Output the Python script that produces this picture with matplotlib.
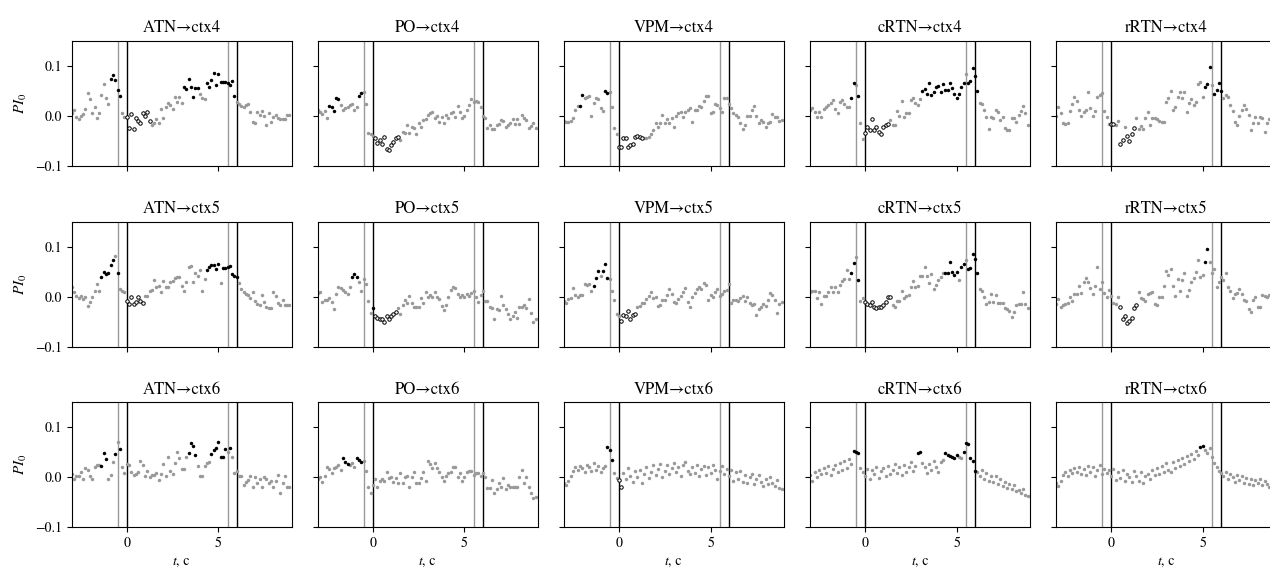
import numpy as np
import matplotlib
matplotlib.use("Agg")
import matplotlib.pyplot as plt

plt.rcParams['font.family'] = ['STIXGeneral', 'Liberation Serif', 'DejaVu Serif']
plt.rcParams['mathtext.fontset'] = 'stix'

# time grid, s
t = np.arange(-3, 9, 0.125)

sources = ['ATN', 'PO', 'VPM', 'cRTN', 'rRTN']
targets = ['ctx4', 'ctx5', 'ctx6']

# PI_0 values per panel (8 values per second, -3 .. 9 s)
atn_ctx4 = [0.006, 0.011, -0.003, -0.007, -0.001, 0.003, 0.013, 0.045,
            0.033, 0.005, 0.018, -0.005, 0.006, 0.041, 0.063, 0.035,
            0.023, 0.073, 0.081, 0.071, 0.051, 0.039, 0.005, -0.003,
            -0.002, -0.025, 0.003, -0.027, -0.005, -0.010, -0.015, 0.005,
            -0.001, 0.008, -0.010, -0.019, -0.014, -0.007, -0.015, 0.013,
            -0.005, 0.017, 0.025, 0.021, 0.013, 0.038, 0.028, 0.037,
            0.026, 0.058, 0.053, 0.073, 0.057, 0.038, 0.055, 0.056,
            0.043, 0.035, 0.033, 0.066, 0.057, 0.071, 0.086, 0.061,
            0.083, 0.068, 0.067, 0.068, 0.065, 0.061, 0.069, 0.040,
            0.028, 0.023, 0.019, 0.018, 0.021, 0.023, 0.008, -0.012,
            -0.015, 0.008, 0.001, 0.010, -0.001, -0.019, 0.006, -0.012,
            -0.003, 0.001, -0.005, -0.007, -0.007, -0.007, 0.001, 0.001]
po_ctx4 = [0.011, 0.008, 0.003, 0.009, -0.005, 0.019, 0.017, 0.010,
           0.035, 0.033, 0.021, 0.011, 0.015, 0.017, 0.021, 0.023,
           0.011, 0.018, 0.039, 0.045, 0.048, 0.023, -0.034, -0.037,
           -0.041, -0.045, -0.055, -0.049, -0.057, -0.042, -0.067, -0.069,
           -0.059, -0.052, -0.045, -0.042, -0.049, -0.032, -0.034, -0.019,
           -0.034, -0.022, -0.025, -0.037, -0.015, -0.023, -0.009, -0.007,
           0.001, 0.006, 0.008, -0.005, -0.001, -0.012, -0.003, -0.014,
           0.001, -0.005, 0.006, 0.008, -0.003, 0.019, 0.008, -0.005,
           -0.001, 0.011, 0.021, 0.033, 0.028, 0.030, 0.028, 0.018,
           -0.001, -0.005, -0.025, -0.019, -0.027, -0.027, -0.019, -0.017,
           -0.009, -0.010, -0.022, -0.019, -0.015, -0.007, -0.017, -0.007,
           -0.017, 0.001, -0.005, -0.009, -0.025, -0.020, -0.015, -0.025]
vpm_ctx4 = [-0.010, -0.012, -0.012, -0.010, -0.005, 0.011, 0.019, 0.019,
            0.041, 0.035, 0.038, 0.039, -0.001, 0.026, 0.035, 0.033,
            0.015, 0.010, 0.050, 0.046, 0.048, 0.017, -0.025, -0.037,
            -0.063, -0.063, -0.045, -0.045, -0.063, -0.059, -0.057, -0.043,
            -0.041, -0.042, -0.045, -0.045, -0.045, -0.043, -0.037, -0.029,
            -0.014, -0.022, -0.014, 0.001, -0.014, -0.007, -0.015, -0.005,
            -0.022, -0.001, 0.005, 0.008, -0.003, 0.008, 0.011, 0.015,
            -0.012, 0.011, 0.011, 0.019, 0.017, 0.030, 0.039, 0.039,
            0.005, 0.008, 0.023, 0.021, 0.016, 0.008, 0.035, 0.035,
            0.023, 0.015, 0.006, 0.001, -0.003, -0.014, -0.027, -0.019,
            -0.001, -0.001, 0.011, 0.019, -0.001, -0.015, -0.009, -0.012,
            -0.023, -0.015, -0.012, 0.003, -0.002, -0.003, -0.010, -0.009]
crtn_ctx4 = [0.012, 0.016, 0.008, -0.003, 0.008, -0.003, 0.013, 0.018,
             0.021, 0.025, 0.031, 0.014, 0.006, 0.028, 0.031, 0.023,
             0.017, 0.018, 0.035, 0.066, 0.061, 0.039, -0.015, -0.047,
             -0.035, -0.022, -0.029, -0.007, -0.029, -0.022, -0.032, -0.037,
             -0.022, -0.019, -0.017, -0.009, -0.019, -0.019, 0.010, -0.001,
             0.030, -0.003, 0.005, 0.006, 0.031, 0.035, 0.026, 0.021,
             0.033, 0.050, 0.053, 0.043, 0.066, 0.041, 0.048, 0.057,
             0.059, 0.047, 0.063, 0.051, 0.051, 0.066, 0.056, 0.043,
             0.035, 0.043, 0.057, 0.066, 0.083, 0.065, 0.069, 0.095,
             0.079, 0.049, 0.026, 0.023, 0.011, -0.003, -0.027, -0.003,
             -0.005, 0.011, 0.008, -0.009, -0.003, -0.025, -0.029, -0.029,
             -0.005, -0.005, -0.012, 0.001, 0.010, 0.019, 0.006, -0.019]
rrtn_ctx4 = [-0.001, 0.018, 0.006, -0.015, -0.017, -0.014, 0.010, 0.023,
             0.037, 0.029, 0.011, -0.001, 0.008, 0.011, 0.047, 0.015,
             -0.001, 0.010, 0.037, 0.041, 0.046, 0.010, -0.003, -0.017,
             -0.017, -0.017, -0.019, -0.010, -0.057, -0.049, -0.022, -0.041,
             -0.050, -0.037, -0.025, -0.005, -0.027, -0.021, -0.027, -0.005,
             0.008, -0.019, -0.005, -0.005, -0.007, -0.010, -0.012, -0.012,
             0.028, 0.035, 0.049, 0.011, 0.018, 0.038, 0.047, 0.035,
             0.048, 0.008, 0.026, 0.033, 0.021, 0.028, 0.063, 0.068,
             0.037, 0.058, 0.063, 0.097, 0.061, 0.043, 0.051, 0.065,
             0.050, 0.035, 0.041, 0.038, 0.021, 0.009, -0.012, -0.019,
             -0.001, 0.011, 0.021, 0.013, 0.001, -0.029, -0.015, -0.003,
             -0.015, -0.003, -0.005, -0.032, -0.015, -0.007, 0.002, 0.005]

atn_ctx5 = [0.019, 0.010, 0.001, -0.003, 0.001, -0.005, -0.001, -0.019,
            -0.010, -0.001, 0.012, 0.025, 0.012, 0.040, 0.050, 0.045,
            0.047, 0.063, 0.073, 0.081, 0.048, 0.015, 0.012, 0.010,
            -0.008, -0.015, -0.001, -0.015, -0.010, -0.001, -0.008, -0.012,
            0.001, 0.001, 0.012, 0.013, 0.033, 0.019, 0.021, 0.010,
            0.032, 0.019, 0.019, 0.030, 0.032, 0.037, 0.040, 0.040,
            0.021, 0.012, 0.030, 0.059, 0.061, 0.030, 0.047, 0.041,
            0.053, 0.012, 0.035, 0.053, 0.059, 0.063, 0.063, 0.055,
            0.065, 0.028, 0.057, 0.057, 0.059, 0.061, 0.045, 0.041,
            0.040, 0.027, 0.015, 0.010, 0.005, 0.003, -0.003, 0.010,
            -0.008, -0.015, -0.017, 0.003, -0.010, -0.020, -0.023, -0.023,
            0.010, 0.001, -0.012, -0.017, -0.007, -0.017, -0.017, -0.017]
po_ctx5 = [0.008, 0.010, -0.010, -0.007, -0.007, -0.003, -0.010, -0.025,
           0.005, 0.019, 0.017, 0.013, 0.010, 0.005, 0.019, 0.040,
           0.045, 0.040, 0.030, 0.012, 0.035, 0.025, -0.008, -0.033,
           -0.023, -0.039, -0.043, -0.045, -0.045, -0.050, -0.039, -0.045,
           -0.039, -0.035, -0.030, -0.023, -0.035, -0.017, -0.007, -0.012,
           0.001, -0.013, -0.021, -0.021, -0.021, -0.003, -0.012, 0.010,
           -0.001, 0.003, -0.001, 0.010, -0.001, -0.005, -0.019, -0.027,
           -0.017, -0.001, 0.013, 0.020, 0.017, 0.005, -0.001, 0.003,
           -0.001, 0.005, 0.001, 0.008, 0.012, -0.001, -0.010, 0.003,
           0.012, -0.008, -0.008, -0.020, -0.023, -0.045, -0.025, -0.027,
           0.001, -0.017, -0.025, -0.035, -0.045, -0.039, -0.030, -0.043,
           -0.020, -0.021, -0.017, -0.023, -0.005, -0.033, -0.050, -0.045]
vpm_ctx5 = [-0.008, -0.012, -0.005, -0.003, 0.017, 0.003, -0.001, 0.003,
            0.003, 0.025, 0.023, 0.025, 0.012, 0.021, 0.037, 0.052,
            0.041, 0.052, 0.065, 0.037, 0.035, 0.012, -0.007, -0.035,
            -0.039, -0.048, -0.037, -0.039, -0.028, -0.045, -0.037, -0.035,
            -0.021, -0.019, -0.013, -0.012, -0.005, 0.001, 0.010, -0.003,
            -0.001, -0.019, -0.017, -0.007, -0.007, 0.003, 0.015, 0.005,
            -0.010, -0.012, -0.005, 0.001, 0.010, 0.017, -0.010, -0.020,
            -0.001, 0.008, 0.015, 0.020, 0.015, 0.028, 0.023, -0.007,
            0.003, -0.001, 0.010, 0.015, 0.001, 0.005, 0.012, 0.013,
            0.025, -0.013, -0.007, -0.007, -0.008, -0.003, 0.001, -0.008,
            -0.001, -0.012, -0.017, -0.015, -0.037, -0.025, -0.021, -0.015,
            -0.019, -0.007, 0.008, 0.003, -0.007, -0.032, -0.015, -0.010]
crtn_ctx5 = [0.010, 0.012, 0.012, -0.003, 0.010, -0.015, 0.001, 0.001,
             0.010, 0.019, 0.010, 0.019, 0.010, 0.023, 0.032, 0.035,
             0.053, 0.035, 0.047, 0.067, 0.080, 0.033, -0.008, -0.003,
             -0.010, -0.015, -0.017, -0.010, -0.020, -0.023, -0.021, -0.021,
             -0.017, -0.010, 0.000, 0.000, -0.017, -0.020, -0.008, -0.008,
             0.011, -0.003, 0.001, 0.003, 0.019, 0.032, 0.020, 0.021,
             0.041, 0.041, 0.060, 0.041, 0.028, 0.045, 0.015, 0.023,
             0.033, 0.040, 0.047, 0.047, 0.047, 0.070, 0.050, 0.043,
             0.050, 0.033, 0.059, 0.065, 0.073, 0.055, 0.057, 0.085,
             0.075, 0.048, 0.015, 0.012, 0.000, -0.015, -0.010, 0.005,
             -0.010, 0.003, -0.012, -0.012, -0.012, -0.023, -0.025, -0.028,
             -0.041, -0.030, -0.017, -0.015, -0.015, 0.010, -0.015, -0.023]
rrtn_ctx5 = [-0.015, -0.005, -0.021, -0.017, -0.015, -0.012, -0.001, -0.008,
             0.005, 0.005, 0.021, 0.008, 0.030, 0.037, 0.030, 0.017,
             0.005, 0.021, 0.060, 0.015, 0.030, 0.007, 0.000, 0.013,
             0.001, -0.012, -0.015, 0.000, -0.021, -0.045, -0.039, -0.052,
             -0.048, -0.043, -0.023, -0.017, 0.010, -0.003, -0.005, -0.008,
             0.005, 0.008, 0.010, -0.015, -0.017, 0.000, -0.001, 0.021,
             0.052, 0.043, 0.055, 0.021, 0.001, 0.035, 0.012, 0.033,
             0.048, 0.001, 0.013, 0.030, 0.037, 0.050, 0.073, 0.040,
             0.043, 0.070, 0.095, 0.070, 0.047, 0.055, 0.020, 0.030,
             0.040, 0.033, 0.048, 0.020, 0.012, -0.003, 0.005, 0.007,
             0.015, 0.005, -0.007, -0.008, -0.025, -0.030, -0.007, -0.001,
             -0.020, -0.020, 0.003, 0.001, -0.001, 0.004, -0.010, -0.005]

atn_ctx6 = [0.007, -0.004, 0.003, 0.003, 0.010, -0.003, 0.018, 0.015,
            0.003, -0.004, 0.021, 0.025, 0.025, 0.023, 0.048, 0.036,
            -0.004, 0.005, 0.031, 0.046, 0.071, 0.056, 0.020, 0.009,
            0.027, 0.025, 0.011, 0.005, 0.007, 0.011, 0.033, 0.025,
            0.003, 0.013, 0.000, 0.005, 0.005, 0.009, -0.005, 0.007,
            0.027, 0.003, 0.041, 0.013, 0.007, 0.029, 0.051, 0.038,
            0.016, 0.016, 0.041, 0.049, 0.069, 0.063, 0.045, 0.023,
            0.003, 0.003, 0.023, 0.029, 0.031, 0.047, 0.055, 0.058,
            0.071, 0.041, 0.041, 0.056, 0.051, 0.059, 0.041, 0.008,
            0.013, 0.003, 0.003, -0.015, -0.009, -0.005, 0.003, -0.019,
            0.001, -0.012, -0.004, -0.019, 0.000, -0.004, -0.011, -0.007,
            -0.020, -0.007, 0.005, -0.032, -0.012, 0.003, -0.019, -0.020]
po_ctx6 = [-0.004, 0.000, -0.009, 0.003, 0.020, 0.016, 0.009, 0.018,
           0.020, 0.025, 0.015, 0.038, 0.031, 0.027, 0.025, 0.029,
           0.021, 0.038, 0.035, 0.031, 0.033, 0.013, -0.020, -0.031,
           -0.015, -0.004, -0.020, -0.007, -0.004, -0.007, 0.011, -0.002,
           0.000, -0.009, -0.002, -0.011, 0.008, -0.011, 0.000, 0.003,
           -0.019, 0.000, 0.011, -0.012, -0.011, -0.002, 0.011, -0.007,
           0.033, 0.027, 0.018, 0.028, 0.018, 0.011, 0.000, -0.007,
           0.003, 0.008, 0.011, 0.021, 0.020, 0.001, 0.009, -0.007,
           0.000, 0.011, 0.013, 0.013, 0.005, 0.008, 0.008, 0.003,
           0.009, 0.000, -0.022, -0.022, -0.005, -0.031, -0.024, -0.012,
           -0.019, -0.002, -0.024, -0.015, -0.019, -0.020, -0.020, -0.019,
           0.000, 0.015, -0.012, 0.000, -0.019, -0.032, -0.042, -0.040]
vpm_ctx6 = [-0.012, -0.015, -0.008, 0.002, 0.012, 0.020, 0.015, 0.022,
            0.018, 0.010, 0.025, 0.020, 0.012, 0.028, 0.015, 0.022,
            0.010, 0.018, 0.022, 0.060, 0.055, 0.035, 0.008, -0.002,
            -0.005, -0.020, 0.008, -0.004, 0.018, 0.002, -0.010, 0.012,
            0.000, 0.015, -0.012, 0.006, 0.020, -0.002, 0.010, 0.024,
            0.004, 0.016, 0.026, 0.000, 0.012, 0.025, 0.006, 0.018,
            0.028, 0.010, 0.020, 0.002, 0.024, 0.030, 0.012, 0.006,
            0.020, 0.008, 0.025, 0.002, 0.016, 0.022, 0.005, 0.020,
            0.008, 0.024, 0.014, -0.004, 0.012, 0.022, 0.006, 0.016,
            0.002, 0.014, -0.008, 0.010, -0.004, 0.012, -0.010, 0.004,
            -0.012, 0.000, 0.006, -0.014, -0.004, 0.004, -0.010, -0.018,
            -0.004, -0.014, 0.000, -0.012, -0.018, -0.006, -0.022, -0.024]
crtn_ctx6 = [0.005, -0.008, 0.010, 0.000, 0.015, 0.006, 0.018, 0.008,
             0.022, 0.004, 0.016, 0.025, 0.010, 0.028, 0.015, 0.032,
             0.018, 0.036, 0.026, 0.052, 0.050, 0.048, 0.018, 0.010,
             0.002, 0.016, -0.004, 0.014, 0.006, 0.020, -0.002, 0.012,
             0.018, 0.002, 0.022, 0.006, 0.014, 0.026, 0.008, 0.020,
             0.005, 0.024, 0.010, 0.020, 0.030, 0.012, 0.022, 0.048,
             0.050, 0.028, 0.020, 0.008, 0.026, 0.015, 0.032, 0.020,
             0.010, 0.030, 0.034, 0.048, 0.045, 0.042, 0.040, 0.038,
             0.045, 0.040, 0.038, 0.050, 0.068, 0.067, 0.038, 0.032,
             0.012, 0.010, 0.002, 0.014, -0.004, 0.008, -0.008, 0.002,
             -0.010, 0.002, -0.014, -0.004, -0.018, -0.010, -0.022, -0.014,
             -0.024, -0.016, -0.028, -0.026, -0.032, -0.024, -0.035, -0.038]
rrtn_ctx6 = [-0.012, -0.018, -0.008, 0.004, 0.010, 0.002, 0.014, 0.008,
             0.018, 0.010, 0.020, 0.006, 0.016, 0.004, 0.022, 0.010,
             0.020, 0.002, 0.014, 0.024, 0.006, 0.016, 0.008, 0.014,
             0.002, 0.016, -0.006, 0.010, -0.002, 0.014, -0.008, 0.006,
             0.000, -0.010, 0.012, 0.002, -0.008, 0.010, -0.012, 0.002,
             0.006, -0.004, 0.014, 0.004, 0.018, 0.006, 0.022, 0.010,
             0.028, 0.015, 0.010, 0.030, 0.018, 0.035, 0.022, 0.038,
             0.026, 0.042, 0.032, 0.047, 0.036, 0.052, 0.045, 0.060,
             0.063, 0.055, 0.048, 0.058, 0.040, 0.028, 0.020, 0.012,
             0.008, 0.002, 0.010, -0.004, 0.006, 0.000, -0.010, 0.004,
             -0.006, 0.002, -0.012, -0.002, -0.014, -0.004, -0.016, -0.006,
             -0.012, -0.004, -0.016, -0.008, -0.014, -0.020, -0.010, -0.016]

# significant intervals (s): increase -> filled black, decrease -> open
atn_ctx4_up = [(-0.9, -0.3), (3.1, 3.9), (4.3, 5.9)]
atn_ctx4_dn = [(-0.05, 1.3)]
po_ctx4_up = [(-2.4, -2.1), (-2.0, -1.85), (-0.8, -0.6)]
po_ctx4_dn = [(0.1, 1.4)]
vpm_ctx4_up = [(-2.2, -1.95), (-0.8, -0.6)]
vpm_ctx4_dn = [(-0.05, 1.3)]
crtn_ctx4_up = [(-0.8, -0.55), (-0.4, -0.35), (3.1, 5.45), (5.6, 6.15)]
crtn_ctx4_dn = [(-0.05, 1.3)]
rrtn_ctx4_up = [(5.05, 5.4), (5.6, 6.05)]
rrtn_ctx4_dn = [(-0.05, 0.2), (0.45, 0.7), (0.8, 1.3)]

atn_ctx5_up = [(-1.4, -0.7), (-0.55, -0.45), (4.35, 5.05), (5.2, 6.05)]
atn_ctx5_dn = [(-0.05, 0.9)]
po_ctx5_up = [(-1.2, -0.8), (-0.05, 0.05)]
po_ctx5_dn = [(0.1, 1.3)]
vpm_ctx5_up = [(-1.4, -1.1), (-0.9, -0.6)]
vpm_ctx5_dn = [(0.1, 0.9)]
crtn_ctx5_up = [(-0.8, -0.55), (-0.4, -0.35), (4.3, 5.05), (5.2, 5.45), (5.6, 6.15)]
crtn_ctx5_dn = [(-0.05, 1.4)]
rrtn_ctx5_up = [(5.1, 5.3)]
rrtn_ctx5_dn = [(0.45, 1.4)]

atn_ctx6_up = [(-1.4, -1.1), (-0.65, -0.6), (-0.4, -0.35), (3.35, 3.8), (4.6, 5.45), (5.6, 5.65)]
atn_ctx6_dn = []
po_ctx6_up = [(-1.65, -1.35), (-0.9, -0.6)]
po_ctx6_dn = []
vpm_ctx6_up = [(-0.65, -0.35)]
vpm_ctx6_dn = [(-0.05, 0.15)]
crtn_ctx6_up = [(-0.65, -0.35), (2.8, 3.05), (4.3, 5.1), (5.35, 6.0)]
crtn_ctx6_dn = []
rrtn_ctx6_up = [(4.8, 5.05)]
rrtn_ctx6_dn = []

values = [[atn_ctx4, po_ctx4, vpm_ctx4, crtn_ctx4, rrtn_ctx4],
          [atn_ctx5, po_ctx5, vpm_ctx5, crtn_ctx5, rrtn_ctx5],
          [atn_ctx6, po_ctx6, vpm_ctx6, crtn_ctx6, rrtn_ctx6]]
ups = [[atn_ctx4_up, po_ctx4_up, vpm_ctx4_up, crtn_ctx4_up, rrtn_ctx4_up],
       [atn_ctx5_up, po_ctx5_up, vpm_ctx5_up, crtn_ctx5_up, rrtn_ctx5_up],
       [atn_ctx6_up, po_ctx6_up, vpm_ctx6_up, crtn_ctx6_up, rrtn_ctx6_up]]
downs = [[atn_ctx4_dn, po_ctx4_dn, vpm_ctx4_dn, crtn_ctx4_dn, rrtn_ctx4_dn],
         [atn_ctx5_dn, po_ctx5_dn, vpm_ctx5_dn, crtn_ctx5_dn, rrtn_ctx5_dn],
         [atn_ctx6_dn, po_ctx6_dn, vpm_ctx6_dn, crtn_ctx6_dn, rrtn_ctx6_dn]]

# stimulus markers, s
stim_lines = [(-0.5, '0.6'), (0.0, 'k'), (5.5, '0.6'), (6.0, 'k')]


def in_any(tt, intervals):
    m = np.zeros(len(tt), dtype=bool)
    for a, b in intervals:
        m |= (tt >= a) & (tt <= b)
    return m


fig = plt.figure(figsize=(12.7, 5.71), dpi=100)
W, H = 1270, 571
ax_w, ax_h = 220, 125
lefts = [71.7 + 246.1 * k for k in range(5)]
tops = [40.7, 221.7, 402.3]

for i, tgt in enumerate(targets):
    for j, src in enumerate(sources):
        ax = fig.add_axes([lefts[j] / W, 1 - (tops[i] + ax_h) / H, ax_w / W, ax_h / H])
        y = np.array(values[i][j])
        up = in_any(t, ups[i][j])
        dn = in_any(t, downs[i][j])
        rest = ~(up | dn)

        for x0, c in stim_lines:
            ax.axvline(x0, color=c, lw=1.0, zorder=1)

        ax.plot(t[rest], y[rest], 'o', ms=2.5, color='0.6', mec='none', zorder=2)
        ax.plot(t[up], y[up], 'o', ms=2.5, color='k', mec='none', zorder=3)
        ax.plot(t[dn], y[dn], 'o', ms=2.5, mfc='white', mec='k', mew=0.7, zorder=3)

        ax.set_xlim(-3, 9)
        ax.set_ylim(-0.1, 0.15)
        ax.set_xticks([0, 5])
        ax.set_yticks([-0.1, 0.0, 0.1])
        ax.tick_params(labelsize=10)
        ax.set_title(f'{src}\u2192{tgt}', fontsize=12)
        if j == 0:
            ax.set_ylabel('$PI_0$', fontsize=11)
        else:
            ax.set_yticklabels([])
        if i == 2:
            ax.set_xlabel('$t$, с', fontsize=10)
        else:
            ax.set_xticklabels([])

fig.savefig('out.png', dpi=100)
